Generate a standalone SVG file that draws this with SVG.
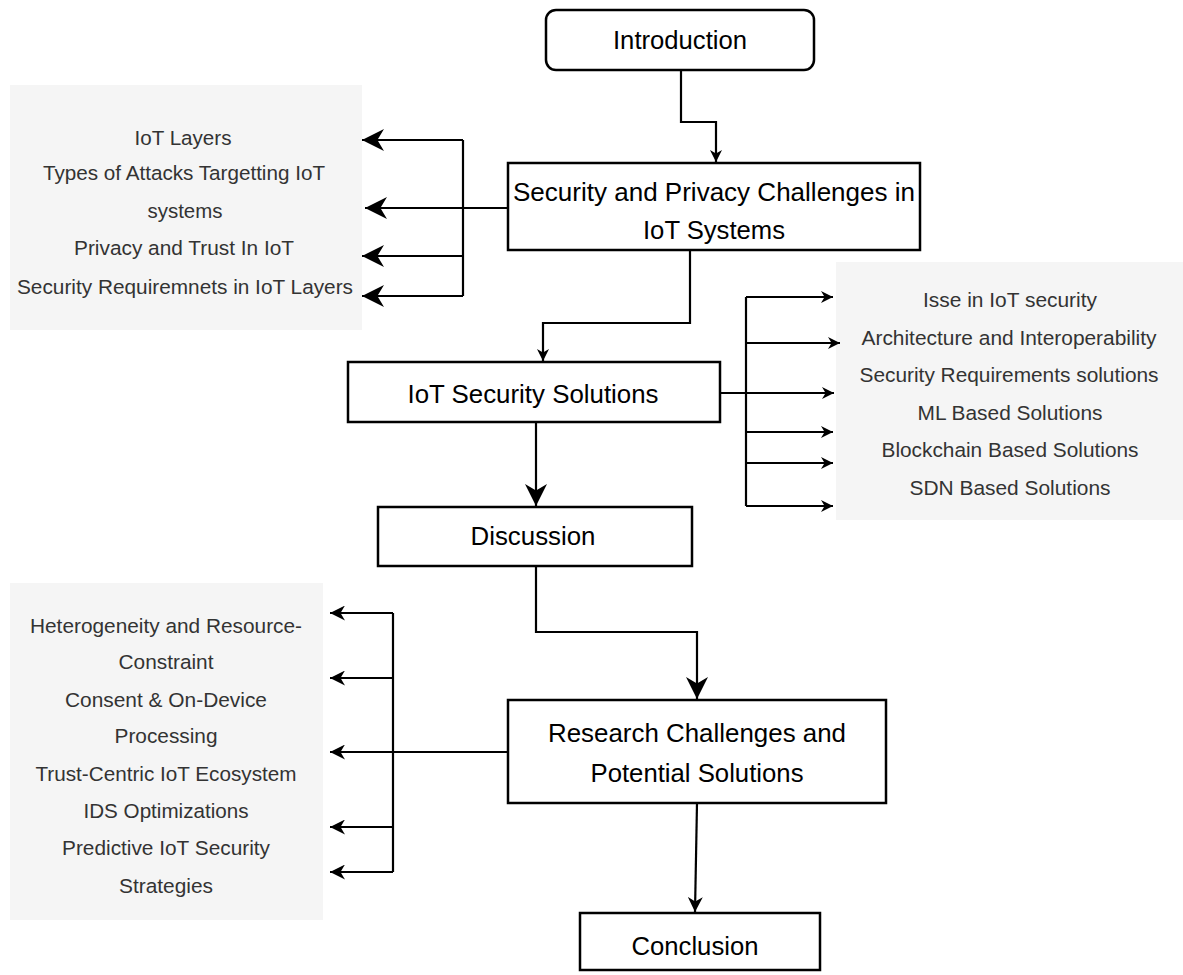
<svg xmlns="http://www.w3.org/2000/svg" width="1183" height="975" viewBox="0 0 1183 975">
<style>
.box{fill:#fff;stroke:#000;stroke-width:2.5}
.grey{fill:#f5f5f5;stroke:none}
.nt{font-family:"Liberation Sans",Arial,sans-serif;font-size:26px;fill:#000;text-anchor:middle}
.gt{font-family:"Liberation Sans",Arial,sans-serif;font-size:20.5px;fill:#333;text-anchor:middle}
.ln{fill:none;stroke:#000;stroke-width:2.2}
</style>
<defs>
<marker id="aS" viewBox="0 0 10 10" refX="10" refY="5" markerWidth="12" markerHeight="12" markerUnits="userSpaceOnUse" orient="auto" preserveAspectRatio="none"><path d="M0,0 L10,5 L0,10 L3,5 Z" fill="#000"/></marker>
<marker id="aM" viewBox="0 0 10 10" refX="10" refY="5" markerWidth="15" markerHeight="15" markerUnits="userSpaceOnUse" orient="auto" preserveAspectRatio="none"><path d="M0,0 L10,5 L0,10 L3,5 Z" fill="#000"/></marker>
<marker id="aL" viewBox="0 0 10 10" refX="10" refY="5" markerWidth="22" markerHeight="22" markerUnits="userSpaceOnUse" orient="auto" preserveAspectRatio="none"><path d="M0,0 L10,5 L0,10 L3,5 Z" fill="#000"/></marker>
</defs>
<rect width="1183" height="975" fill="#fff"/>

<g id="list-left-top">
<rect class="grey" x="10" y="85" width="352" height="245"/>
<text class="gt" x="183" y="145" textLength="97" lengthAdjust="spacingAndGlyphs">IoT Layers</text>
<text class="gt" x="184" y="180" textLength="282" lengthAdjust="spacingAndGlyphs">Types of Attacks Targetting IoT</text>
<text class="gt" x="185" y="218" textLength="75" lengthAdjust="spacingAndGlyphs">systems</text>
<text class="gt" x="184" y="255" textLength="220" lengthAdjust="spacingAndGlyphs">Privacy and Trust In IoT</text>
<text class="gt" x="185" y="294" textLength="336" lengthAdjust="spacingAndGlyphs">Security Requiremnets in IoT Layers</text>
</g>

<g id="list-right">
<rect class="grey" x="836" y="262" width="347" height="258"/>
<text class="gt" x="1010" y="307" textLength="174" lengthAdjust="spacingAndGlyphs">Isse in IoT security</text>
<text class="gt" x="1009" y="345" textLength="295" lengthAdjust="spacingAndGlyphs">Architecture and Interoperability</text>
<text class="gt" x="1009" y="382" textLength="299" lengthAdjust="spacingAndGlyphs">Security Requirements solutions</text>
<text class="gt" x="1010" y="420" textLength="185" lengthAdjust="spacingAndGlyphs">ML Based Solutions</text>
<text class="gt" x="1010" y="457" textLength="257" lengthAdjust="spacingAndGlyphs">Blockchain Based Solutions</text>
<text class="gt" x="1010" y="495" textLength="201" lengthAdjust="spacingAndGlyphs">SDN Based Solutions</text>
</g>

<g id="list-left-bottom">
<rect class="grey" x="10" y="583" width="313" height="337"/>
<text class="gt" x="166" y="633" textLength="272" lengthAdjust="spacingAndGlyphs">Heterogeneity and Resource-</text>
<text class="gt" x="166" y="669" textLength="95" lengthAdjust="spacingAndGlyphs">Constraint</text>
<text class="gt" x="166" y="707" textLength="202" lengthAdjust="spacingAndGlyphs">Consent &amp; On-Device</text>
<text class="gt" x="166" y="743" textLength="103" lengthAdjust="spacingAndGlyphs">Processing</text>
<text class="gt" x="166" y="781" textLength="261" lengthAdjust="spacingAndGlyphs">Trust-Centric IoT Ecosystem</text>
<text class="gt" x="166" y="818" textLength="165" lengthAdjust="spacingAndGlyphs">IDS Optimizations</text>
<text class="gt" x="166" y="855" textLength="208" lengthAdjust="spacingAndGlyphs">Predictive IoT Security</text>
<text class="gt" x="166" y="893" textLength="94" lengthAdjust="spacingAndGlyphs">Strategies</text>
</g>

<g id="connectors">
<path class="ln" d="M681,70 V122 H716 V162" marker-end="url(#aS)"/>
<path class="ln" d="M508,208 H365" marker-end="url(#aL)"/>
<path class="ln" d="M463,140 V296"/>
<path class="ln" d="M463,140 H362" marker-end="url(#aL)"/>
<path class="ln" d="M463,256 H362" marker-end="url(#aL)"/>
<path class="ln" d="M463,296 H362" marker-end="url(#aL)"/>
<path class="ln" d="M690,250 V323 H543 V361" marker-end="url(#aS)"/>
<path class="ln" d="M720,393 H834" marker-end="url(#aS)"/>
<path class="ln" d="M746,297 V506"/>
<path class="ln" d="M746,297 H833" marker-end="url(#aS)"/>
<path class="ln" d="M746,343 H840" marker-end="url(#aS)"/>
<path class="ln" d="M746,432 H833" marker-end="url(#aS)"/>
<path class="ln" d="M746,463 H833" marker-end="url(#aS)"/>
<path class="ln" d="M746,506 H833" marker-end="url(#aS)"/>
<path class="ln" d="M536,422 V506" marker-end="url(#aL)"/>
<path class="ln" d="M536,566 V632 H697 V699" marker-end="url(#aL)"/>
<path class="ln" d="M508,752 H330" marker-end="url(#aM)"/>
<path class="ln" d="M393,613 V872"/>
<path class="ln" d="M393,613 H330" marker-end="url(#aM)"/>
<path class="ln" d="M393,678 H330" marker-end="url(#aM)"/>
<path class="ln" d="M393,827 H330" marker-end="url(#aM)"/>
<path class="ln" d="M393,872 H330" marker-end="url(#aM)"/>
<path class="ln" d="M697,803 L695,912" marker-end="url(#aM)"/>
</g>

<g id="introduction">
<rect class="box" x="546" y="10" width="268" height="60" rx="10"/>
<text class="nt" x="680" y="49" textLength="134" lengthAdjust="spacingAndGlyphs">Introduction</text>
</g>

<g id="security-privacy">
<rect class="box" x="508" y="163" width="412" height="87"/>
<text class="nt" x="714" y="201" textLength="402" lengthAdjust="spacingAndGlyphs">Security and Privacy Challenges in</text>
<text class="nt" x="714" y="239" textLength="142" lengthAdjust="spacingAndGlyphs">IoT Systems</text>
</g>

<g id="iot-security-solutions">
<rect class="box" x="348" y="362" width="372" height="60"/>
<text class="nt" x="533" y="403" textLength="251" lengthAdjust="spacingAndGlyphs">IoT Security Solutions</text>
</g>

<g id="discussion">
<rect class="box" x="378" y="507" width="314" height="59"/>
<text class="nt" x="533" y="545" textLength="125" lengthAdjust="spacingAndGlyphs">Discussion</text>
</g>

<g id="research">
<rect class="box" x="508" y="700" width="378" height="103"/>
<text class="nt" x="697" y="742" textLength="298" lengthAdjust="spacingAndGlyphs">Research Challenges and</text>
<text class="nt" x="697" y="782" textLength="213" lengthAdjust="spacingAndGlyphs">Potential Solutions</text>
</g>

<g id="conclusion">
<rect class="box" x="580" y="913" width="240" height="57"/>
<text class="nt" x="695" y="955" textLength="127" lengthAdjust="spacingAndGlyphs">Conclusion</text>
</g>
</svg>
